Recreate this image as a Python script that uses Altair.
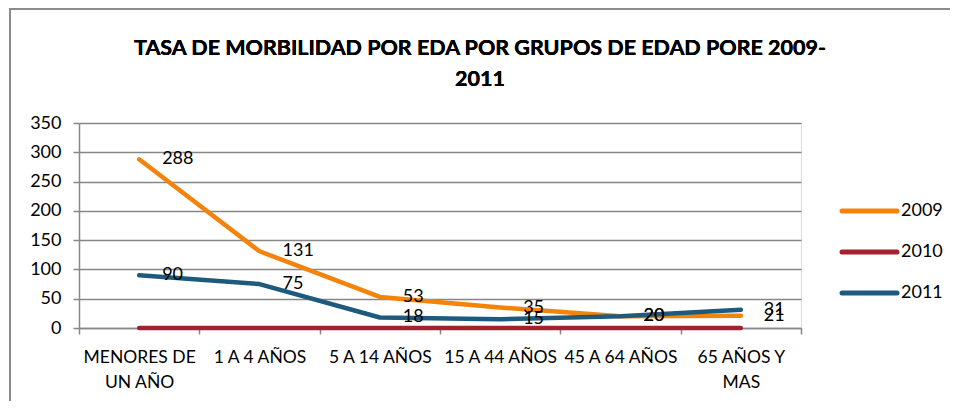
import altair as alt
import pandas as pd

categories = ["MENORES DE UN AÑO", "1 A 4 AÑOS", "5 A 14 AÑOS", "15 A 44 AÑOS", "45 A 64 AÑOS", "65 AÑOS Y MAS"]
series = ["2009", "2010", "2011"]
v2009 = [288, 131, 53, 35, 20, 21]
v2010 = [0, 0, 0, 0, 0, 0]
v2011 = [90, 75, 18, 15, 20, 31]
colors = ["#F3830B", "#A2232F", "#1D5A7E"]
y_ticks = [0, 50, 100, 150, 200, 250, 300, 350]
title_lines = ["TASA DE MORBILIDAD POR EDA  POR GRUPOS DE EDAD PORE 2009-", "2011"]

rows = []
for s, vals in zip(series, [v2009, v2010, v2011]):
    for c, v in zip(categories, vals):
        rows.append({"grupo": c, "serie": s, "tasa": v})
df = pd.DataFrame(rows)
legend_df = pd.DataFrame({"serie": series})

FONT = "Lato"
GRID = "#878787"

color = alt.Color("serie:N", scale=alt.Scale(domain=series, range=colors), legend=None)

x = alt.X(
    "grupo:N",
    sort=categories,
    scale=alt.Scale(paddingInner=0, paddingOuter=0),
    axis=alt.Axis(
        title=None,
        labelAngle=0,
        labelFont=FONT,
        labelFontSize=17.5,
        labelColor="#000000",
        labelLineHeight=25,
        labelPadding=14,
        tickBand="extent",
        tickSize=6,
        tickColor=GRID,
        tickWidth=1.5,
        domainColor=GRID,
        domainWidth=1.5,
        labelExpr="datum.label == 'MENORES DE UN AÑO' ? ['MENORES DE', 'UN AÑO'] : datum.label == '65 AÑOS Y MAS' ? ['65 AÑOS Y', 'MAS'] : datum.label",
        labelOverlap=False,
        labelLimit=0,
    ),
)
y = alt.Y(
    "tasa:Q",
    scale=alt.Scale(domain=[0, 350], nice=False),
    axis=alt.Axis(
        title=None,
        values=y_ticks,
        labelFont=FONT,
        labelFontSize=18,
        labelColor="#000000",
        labelPadding=12,
        tickSize=6,
        tickColor=GRID,
        tickWidth=1.5,
        domainColor=GRID,
        domainWidth=1.5,
        grid=True,
        gridColor=GRID,
        gridWidth=1.5,
    ),
)

lines = alt.Chart(df).mark_line(strokeWidth=4.5, strokeCap="round", strokeJoin="round").encode(
    x=x, y=y, color=color, order=alt.Order("serie:N")
)

labels = alt.Chart(df).transform_filter(alt.datum.serie != "2010").mark_text(
    align="left", baseline="middle", dx=23, font=FONT, fontSize=18, color="#000000"
).encode(x=x, y=y, text=alt.Text("tasa:Q"))

main = alt.layer(lines, labels)

leg_y = alt.Y("serie:N", scale=alt.Scale(type="point", domain=series, range=[88, 170], padding=0), axis=None)
leg_rules = alt.Chart(legend_df).mark_rule(strokeWidth=5, strokeCap="round").encode(
    x=alt.value(763), x2=alt.value(818), y=leg_y, color=color
)
leg_text = alt.Chart(legend_df).mark_text(
    align="left", baseline="middle", font=FONT, fontSize=18, color="#000000"
).encode(x=alt.value(822), y=leg_y, text="serie:N")
legend = alt.layer(leg_rules, leg_text)

title1 = alt.Chart(legend_df).mark_text(
    align="center", baseline="middle", font=FONT, fontSize=21.5, fontWeight="bold", color="#000000"
).encode(x=alt.value(401), y=alt.value(-74), text=alt.value(title_lines[0]))
title2 = alt.Chart(legend_df).mark_text(
    align="center", baseline="middle", font=FONT, fontSize=21.5, fontWeight="bold", color="#000000"
).encode(x=alt.value(401), y=alt.value(-43), text=alt.value(title_lines[1]))

frame_left = alt.Chart(legend_df).mark_rule(color="#8C8C8C", strokeWidth=2).encode(
    x=alt.value(-69), y=alt.value(-115), y2=alt.value(290)
)
frame_top = alt.Chart(legend_df).mark_rule(color="#8C8C8C", strokeWidth=2).encode(
    x=alt.value(-69), x2=alt.value(880), y=alt.value(-114)
)

chart = (
    alt.layer(main, legend, title1, title2, frame_left, frame_top)
    .resolve_scale(y="independent")
    .properties(
        width=722,
        height=205,
        autosize=alt.AutoSizeParams(type="none"),
        padding={"left": 71, "top": 115, "right": 149, "bottom": 73},
    )
    .configure_view(stroke=None)
    .configure(background="white")
)

chart.save("out.html", embed_options={"renderer": "svg", "actions": False})
